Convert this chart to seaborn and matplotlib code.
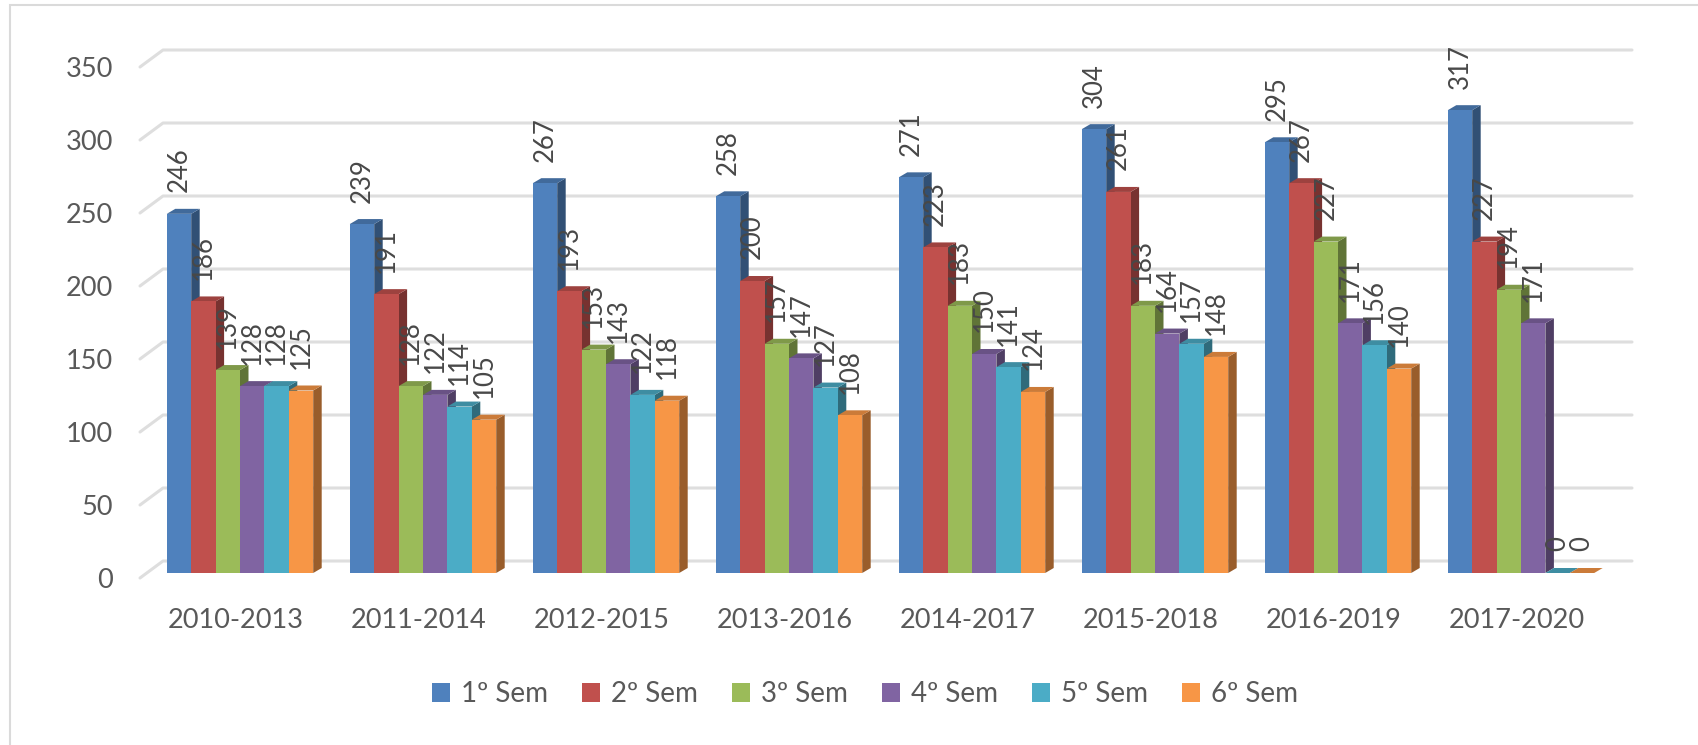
import matplotlib
matplotlib.use('Agg')
import matplotlib.pyplot as plt
import matplotlib.transforms as mtrans
from matplotlib.colors import to_rgb
from matplotlib.patches import Polygon, Rectangle
import pandas as pd
import seaborn as sns

cohorts = ['2010-2013', '2011-2014', '2012-2015', '2013-2016',
           '2014-2017', '2015-2018', '2016-2019', '2017-2020']
sem_names = ['1º Sem', '2º Sem', '3º Sem', '4º Sem', '5º Sem', '6º Sem']
sem1 = [246, 239, 267, 258, 271, 304, 295, 317]
sem2 = [186, 191, 193, 200, 223, 261, 267, 227]
sem3 = [139, 128, 153, 157, 183, 183, 227, 194]
sem4 = [128, 122, 143, 147, 150, 164, 171, 171]
sem5 = [128, 114, 122, 127, 141, 157, 156, 0]
sem6 = [125, 105, 118, 108, 124, 148, 140, 0]
colors = ['#4F81BD', '#C0504D', '#9BBB59', '#8064A2', '#4BACC6', '#F79646']
y_ticks = [0, 50, 100, 150, 200, 250, 300, 350]

TEXT_COLOR = '#595959'
GRID_COLOR = '#DEDEDE'
W, H = 1699, 745
PX_X = 1 / 183    # data units per pixel
PX_Y = 1 / 1.46

df = pd.DataFrame({'cohort': cohorts, '1º Sem': sem1, '2º Sem': sem2, '3º Sem': sem3,
                   '4º Sem': sem4, '5º Sem': sem5, '6º Sem': sem6})
long_df = df.melt(id_vars='cohort', var_name='sem', value_name='n')

sns.set_theme(style='white')
plt.rcParams['font.family'] = ['Lato', 'DejaVu Sans']

fig = plt.figure(figsize=(W / 100, H / 100), dpi=100)
ax = fig.add_axes([140 / W, 1 - 573 / H, (1632 - 140) / W, (573 - 47.4) / H])

sns.barplot(data=long_df, x='cohort', y='n', hue='sem', hue_order=sem_names,
            palette=colors, width=0.8, gap=0, errorbar=None, legend=False,
            linewidth=0, saturation=1, ax=ax)

ax.set_xlim(-100 * PX_X, 1392 * PX_X)
ax.set_ylim(0, 360)
ax.set_xlabel('')
ax.set_ylabel('')
sns.despine(ax=ax, left=True, bottom=True)

# back wall grid
x0, x1 = ax.get_xlim()
for v in y_ticks:
    ax.plot([x0, x0 + 23 * PX_X, x1], [v - 5 * PX_Y, v + 12 * PX_Y, v + 12 * PX_Y],
            color=GRID_COLOR, lw=2.2, zorder=1, clip_on=False, solid_joinstyle='round')

# fake 3d faces from the bars seaborn drew
depth_x = 8.5 * PX_X
depth_y = 5 * PX_Y
for i, cont in enumerate(ax.containers):
    rgb = to_rgb(colors[i])
    side_c = tuple(c * 0.62 for c in rgb)
    top_c = tuple(c * 0.82 for c in rgb)
    for bar, val in zip(cont.patches, df[sem_names[i]]):
        bx, bw, bh = bar.get_x(), bar.get_width(), bar.get_height()
        bar.set_zorder(3 + i)
        ax.add_patch(Polygon([(bx + bw, 0), (bx + bw + depth_x, depth_y),
                              (bx + bw + depth_x, bh + depth_y), (bx + bw, bh)],
                             closed=True, fc=side_c, ec='none', zorder=2.6 + i, clip_on=False))
        ax.add_patch(Polygon([(bx, bh), (bx + depth_x, bh + depth_y),
                              (bx + bw + depth_x, bh + depth_y), (bx + bw, bh)],
                             closed=True, fc=top_c, ec='none', zorder=2.7 + i, clip_on=False))
        ax.annotate(str(val), (bx + bw / 2, bh), xytext=(0, 15.5), textcoords='offset points',
                    rotation=90, ha='center', va='bottom', fontsize=18.5,
                    color='#484848', zorder=20, annotation_clip=False)

# tick labels, the y ones sit on the front edge of the wall
ax.set_yticks(y_ticks)
ax.tick_params(axis='both', length=0)
ax.tick_params(axis='y', pad=19.5, labelsize=19.5, labelcolor=TEXT_COLOR)
ax.tick_params(axis='x', pad=25.5, labelsize=19.5, labelcolor=TEXT_COLOR)
shift = mtrans.ScaledTranslation(0, -5 / 100, fig.dpi_scale_trans)
for lbl in ax.get_yticklabels():
    lbl.set_transform(lbl.get_transform() + shift)
shift_x = mtrans.ScaledTranslation(-4 / 100, 0, fig.dpi_scale_trans)
for lbl in ax.get_xticklabels():
    lbl.set_transform(lbl.get_transform() + shift_x)

handles = [Rectangle((0, 0), 1, 1, fc=c, ec='none') for c in colors]
fig.legend(handles, sem_names, loc='center', bbox_to_anchor=(865 / W, 1 - 694 / H), ncol=6,
           frameon=False, fontsize=20, labelcolor=TEXT_COLOR, handlelength=0.65, handleheight=0.7,
           handletextpad=0.4, columnspacing=1.22)

# chart frame
fig.add_artist(Rectangle((10 / W, -0.1), 1.1, 1 - 5 / H + 0.1, transform=fig.transFigure,
                         fc='none', ec='#DADADA', lw=1.5))

fig.savefig('out.png', dpi=100, facecolor='white')
